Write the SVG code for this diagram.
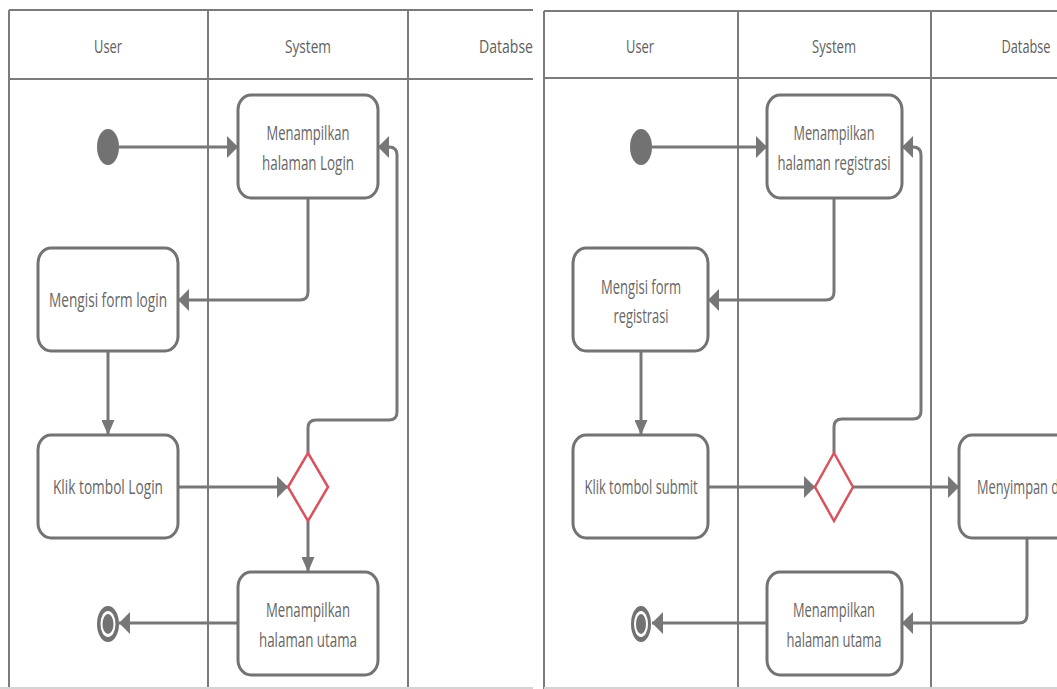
<svg xmlns="http://www.w3.org/2000/svg" width="1057" height="689" viewBox="0 0 1057 689">
<style>
.lane{fill:none;stroke:#7b7b7b;stroke-width:2}
.faint{fill:none;stroke:#d4d4d4;stroke-width:2}
.node{fill:#ffffff;stroke:#737373;stroke-width:3}
.dec{fill:#ffffff;stroke:#d9535f;stroke-width:2.5}
.con{fill:none;stroke:#777777;stroke-width:3}
.h{marker-end:url(#ah)}
.v{marker-end:url(#av)}
.t{font-family:"Open Sans","Noto Sans",sans-serif;font-size:18px;fill:#606060;text-anchor:middle}
.b{font-size:20px;fill:#666666}
.dot{fill:#727272}
</style>
<defs>
<marker id="ah" viewBox="0 0 11 22" refX="11" refY="11" markerWidth="11" markerHeight="22" markerUnits="userSpaceOnUse" orient="auto">
<path d="M0,0 L11,11 L0,22 Z" fill="#777777"/>
</marker>
<marker id="av" viewBox="0 0 15 13" refX="15" refY="6.5" markerWidth="15" markerHeight="13" markerUnits="userSpaceOnUse" orient="auto">
<path d="M0,0 L15,6.5 L0,13 Z" fill="#777777"/>
</marker>
</defs>
<rect width="1057" height="689" fill="#ffffff"/>

<!-- Left diagram lanes -->
<g id="lanes-left">
<path class="lane" d="M9,10 H533 M9,79 H533 M9,10 V689 M208,10 V689 M408,10 V689"/>
<path class="faint" d="M0,688 H533"/>
<text class="t" x="108" y="53" textLength="28" lengthAdjust="spacingAndGlyphs">User</text>
<text class="t" x="308" y="53" textLength="46" lengthAdjust="spacingAndGlyphs">System</text>
<text class="t" x="506" y="53" textLength="54" lengthAdjust="spacingAndGlyphs">Databse</text>
</g>

<!-- Right diagram lanes -->
<g id="lanes-right">
<path class="lane" d="M544,11 H1057 M544,78 H1057 M544,11 V689 M738,11 V689 M931,11 V689"/>
<path class="faint" d="M544,688 H1057"/>
<text class="t" x="640" y="53" textLength="28" lengthAdjust="spacingAndGlyphs">User</text>
<text class="t" x="834" y="53" textLength="44" lengthAdjust="spacingAndGlyphs">System</text>
<text class="t" x="1026" y="53" textLength="49" lengthAdjust="spacingAndGlyphs">Databse</text>
</g>

<!-- Connectors -->
<g id="connectors">
<path class="con h" d="M119,147 H238"/>
<path class="con h" d="M308,198 V292 Q308,300 300,300 H178"/>
<path class="con v" d="M108,351 V435"/>
<path class="con h" d="M178,487 H288"/>
<path class="con h" d="M308,453 V428 Q308,420 316,420 H389 Q397,420 397,412 V155 Q397,147 389,147 H378"/>
<path class="con v" d="M308,521 V572"/>
<path class="con h" d="M238,623 H119"/>

<path class="con h" d="M652,147 H767"/>
<path class="con h" d="M834,198 V292 Q834,300 826,300 H708"/>
<path class="con v" d="M641,351 V435"/>
<path class="con h" d="M708,487 H815"/>
<path class="con h" d="M834,453 V427 Q834,419 842,419 H913 Q921,419 921,411 V155 Q921,147 913,147 H902"/>
<path class="con h" d="M853,487 H959"/>
<path class="con h" d="M1027,538 V615 Q1027,623 1019,623 H902"/>
<path class="con h" d="M767,623 H652"/>
</g>

<!-- Left diagram nodes -->
<g id="L-start"><ellipse class="dot" cx="108" cy="147" rx="11" ry="18"/></g>
<g id="L-show-login">
<rect class="node" x="238" y="95" width="140" height="103" rx="13" ry="15"/>
<text class="t b" x="308" y="140" textLength="83" lengthAdjust="spacingAndGlyphs">Menampilkan</text>
<text class="t b" x="308" y="170" textLength="92" lengthAdjust="spacingAndGlyphs">halaman Login</text>
</g>
<g id="L-fill-form">
<rect class="node" x="38" y="248" width="140" height="103" rx="13" ry="15"/>
<text class="t b" x="108" y="307" textLength="118" lengthAdjust="spacingAndGlyphs">Mengisi form login</text>
</g>
<g id="L-click">
<rect class="node" x="38" y="435" width="140" height="103" rx="13" ry="15"/>
<text class="t b" x="108" y="494" textLength="110" lengthAdjust="spacingAndGlyphs">Klik tombol Login</text>
</g>
<g id="L-decision"><path class="dec" d="M308,453 L328,487 L308,521 L288,487 Z"/></g>
<g id="L-show-main">
<rect class="node" x="238" y="572" width="140" height="103" rx="13" ry="15"/>
<text class="t b" x="308" y="617" textLength="84" lengthAdjust="spacingAndGlyphs">Menampilkan</text>
<text class="t b" x="308" y="647" textLength="98" lengthAdjust="spacingAndGlyphs">halaman utama</text>
</g>
<g id="L-end">
<ellipse class="dot" cx="108" cy="624" rx="11" ry="18"/>
<ellipse cx="108" cy="624" rx="7.5" ry="13" fill="#ffffff"/>
<ellipse class="dot" cx="108" cy="624" rx="5.5" ry="10"/>
</g>

<!-- Right diagram nodes -->
<g id="R-start"><ellipse class="dot" cx="641" cy="147" rx="11" ry="18"/></g>
<g id="R-show-reg">
<rect class="node" x="767" y="95" width="135" height="103" rx="13" ry="15"/>
<text class="t b" x="834" y="140" textLength="81" lengthAdjust="spacingAndGlyphs">Menampilkan</text>
<text class="t b" x="834" y="170" textLength="113" lengthAdjust="spacingAndGlyphs">halaman registrasi</text>
</g>
<g id="R-fill-form">
<rect class="node" x="573" y="248" width="135" height="103" rx="13" ry="15"/>
<text class="t b" x="641" y="294" textLength="80" lengthAdjust="spacingAndGlyphs">Mengisi form</text>
<text class="t b" x="641" y="323" textLength="55" lengthAdjust="spacingAndGlyphs">registrasi</text>
</g>
<g id="R-click">
<rect class="node" x="573" y="435" width="135" height="103" rx="13" ry="15"/>
<text class="t b" x="641" y="494" textLength="113" lengthAdjust="spacingAndGlyphs">Klik tombol submit</text>
</g>
<g id="R-decision"><path class="dec" d="M834,453 L853,487 L834,521 L815,487 Z"/></g>
<g id="R-save">
<rect class="node" x="959" y="435" width="135" height="103" rx="13" ry="15"/>
<text class="t b" x="977" y="494" style="text-anchor:start" textLength="101" lengthAdjust="spacingAndGlyphs">Menyimpan data</text>
</g>
<g id="R-show-main">
<rect class="node" x="767" y="572" width="135" height="103" rx="13" ry="15"/>
<text class="t b" x="834" y="617" textLength="82" lengthAdjust="spacingAndGlyphs">Menampilkan</text>
<text class="t b" x="834" y="647" textLength="95" lengthAdjust="spacingAndGlyphs">halaman utama</text>
</g>
<g id="R-end">
<ellipse class="dot" cx="641" cy="624" rx="10" ry="18"/>
<ellipse cx="641" cy="624" rx="7" ry="13" fill="#ffffff"/>
<ellipse class="dot" cx="641" cy="624" rx="5" ry="10"/>
</g>
</svg>
